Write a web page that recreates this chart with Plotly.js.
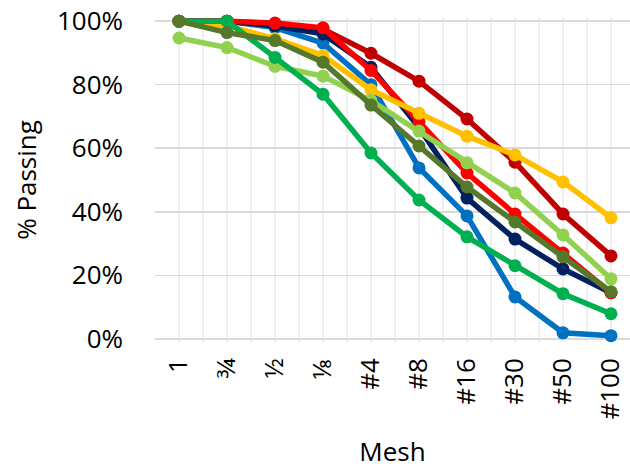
<!DOCTYPE html>
<html>
<head>
<meta charset="utf-8">
<script src="https://cdn.plot.ly/plotly-3.0.1.min.js"></script>
<style>html,body{margin:0;padding:0;background:#fff;}#chart{width:630px;height:469px;}</style>
</head>
<body>
<div id="chart"></div>
<script>
var meshLabels = ["1", "\u00BE", "\u00BD", "\u215B", "#4", "#8", "#16", "#30", "#50", "#100"];

var darkRed    = [100, 100, 99, 97.5, 89.9, 81.1, 69.2, 55.6, 39.3, 26.1];
var blue       = [100, 100, 98, 93.1, 80, 53.8, 38.7, 13.2, 1.9, 1.0];
var navy       = [100, 100, 98.5, 96, 85.5, 66.5, 44.3, 31.4, 22, 14.5];
var red        = [100, 100, 99.4, 97.9, 84.5, 68.3, 52.2, 39.3, 27, 14.5];
var yellow     = [100, 98.5, 94.5, 89.2, 78.4, 71, 63.8, 57.9, 49.4, 38.1];
var lightGreen = [94.7, 91.7, 85.8, 82.7, 75, 65.4, 55.4, 45.9, 32.7, 18.9];
var green      = [100, 100, 88.6, 77, 58.5, 43.7, 32.1, 23, 14.2, 7.9];
var olive      = [100, 96.4, 93.9, 87.1, 73.6, 60.7, 47.8, 36.8, 25.8, 14.8];

var seriesList = [
  {y: darkRed, c: "#C00000"},
  {y: blue, c: "#0070C0"},
  {y: navy, c: "#002060"},
  {y: red, c: "#FF0000"},
  {y: yellow, c: "#FFC000"},
  {y: lightGreen, c: "#92D050"},
  {y: green, c: "#00B050"},
  {y: olive, c: "#55782A"}
];

var xIdx = meshLabels.map(function(_, i){ return i; });

var traces = seriesList.map(function(s){
  return {
    x: xIdx, y: s.y, type: "scatter", mode: "lines+markers",
    line: {color: s.c, width: 5.5},
    marker: {color: s.c, size: 13},
    cliponaxis: false, hoverinfo: "skip", showlegend: false
  };
});

var fontFam = "Open Sans, Liberation Sans, sans-serif";

var layout = {
  width: 630, height: 469,
  margin: {l: 155, r: 0, t: 18, b: 127, pad: 0},
  paper_bgcolor: "#ffffff", plot_bgcolor: "#ffffff",
  font: {family: fontFam, color: "#000000", size: 26},
  showlegend: false,
  xaxis: {
    type: "linear",
    range: [-0.5, 9.396],
    tickmode: "array", tickvals: xIdx, ticktext: meshLabels,
    tickangle: -90,
    tickfont: {family: fontFam, size: 26, color: "#000"},
    ticklabelstandoff: 10,
    ticks: "", showline: false, zeroline: false,
    showgrid: true, gridcolor: "#efefef", gridwidth: 1.5,
    minor: {tickmode: "linear", tick0: -0.5, dtick: 1, showgrid: true, gridcolor: "#efefef", gridwidth: 1.5, ticks: ""},
    title: {text: "Mesh", font: {family: fontFam, size: 26, color: "#000"}, standoff: 29},
    automargin: false, fixedrange: true
  },
  yaxis: {
    range: [-1, 101],
    tickmode: "array", tickvals: [0, 20, 40, 60, 80, 100],
    ticktext: ["0%", "20%", "40%", "60%", "80%", "100%"],
    tickfont: {family: fontFam, size: 26, color: "#000"},
    ticklabelstandoff: 31,
    ticks: "", showline: false,
    zeroline: true, zerolinecolor: "#d9d9d9", zerolinewidth: 1.5,
    showgrid: true, gridcolor: "#d9d9d9", gridwidth: 1.5,
    title: {text: "% Passing", font: {family: fontFam, size: 26, color: "#000"}, standoff: 12},
    automargin: false, fixedrange: true
  }
};

Plotly.newPlot("chart", traces, layout, {staticPlot: true, displayModeBar: false});
</script>
</body>
</html>
